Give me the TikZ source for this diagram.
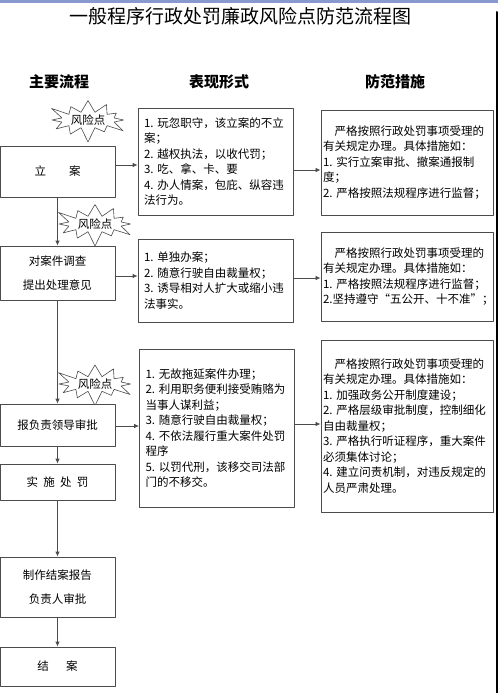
\documentclass[tikz,border=0pt]{standalone}
\usepackage{fontspec}
\setmainfont{Noto Sans CJK SC}
\usepackage{xcolor}
\usepackage{tikz}
\usetikzlibrary{arrows.meta,shapes.symbols}
\definecolor{bandblue}{RGB}{138,152,208}

\begin{document}
\begin{tikzpicture}[
				x=1pt,
				y=-1pt,
				line cap=round,
				line join=round,
				>={Latex[length=5pt,width=4.5pt]},
				every node/.style={font=\fontsize{11.5}{15.5}\selectfont},
				liubox/.style={draw=black!70,fill=white,line width=0.8pt,
					minimum width=115pt,align=center,inner sep=0pt},
				biaobox/.style={draw=black!70,fill=white,line width=0.8pt,
					text width=143pt,inner xsep=6pt,align=left},
				cuobox/.style={draw=black!70,fill=white,line width=0.9pt,
					text width=168pt,inner xsep=2pt,align=left},
				fengxian/.style={starburst,starburst points=12,
					starburst point height=16pt,draw=black!70,fill=white,
					line width=0.6pt,minimum width=86pt,minimum height=48pt,inner sep=0pt},
				title/.style={font=\bfseries\fontsize{15}{18}\selectfont}
				]
				\useasboundingbox (0,0) rectangle (498,693);
				\fill[white] (0,0) rectangle (498,693);
				\fill[bandblue] (0,0) rectangle (498,2.6);
				\draw[line width=2pt] (497,12) -- (497,693);
				
				\node[font=\fontsize{19}{22}\selectfont] (biaoti) at (240,16)
				{一般程序行政处罚廉政风险点防范流程图};
				\node[title] (h1) at (59,82) {主要流程};
				\node[title] (h2) at (219,82) {表现形式};
				\node[title] (h3) at (395,82) {防范措施};
				
				% risk points
				\node[fengxian] (fx1) at (88,120) {风险点};
				\node[fengxian] (fx2) at (95,224) {风险点};
				\node[fengxian,minimum height=44pt] (fx3) at (95,384) {风险点};
				
				% main flow
				\node[liubox,minimum height=51pt] (lian) at (57.5,171.5) {立\hspace{2em}案};
				\node[liubox,minimum height=54pt] (diaocha) at (57.5,273)
				{对案件调查\\[8.5pt]提出处理意见};
				\node[liubox,minimum height=42pt] (shenpi) at (57.5,425) {报负责领导审批};
				\node[liubox,minimum height=36pt] (chufa) at (57.5,482)
				{实\hspace{0.45em}施\hspace{0.45em}处\hspace{0.45em}罚};
				\node[liubox,minimum height=60pt] (baogao) at (57.5,587)
				{制作结案报告\\[8.5pt]负责人审批};
				\node[liubox,minimum height=39pt] (jiean) at (57.5,666.5) {结\hspace{1.5em}案};
				
				\foreach \a/\b in {lian/diaocha,diaocha/shenpi,shenpi/chufa,chufa/baogao,baogao/jiean}
				\draw[->,black!70,line width=0.8pt] (\a) -- (\b);
				
				% forms
				\node[biaobox,minimum height=107pt] (biao1) at (215.5,161.5)
				{1.~玩忽职守，该立案的不立\\
					案；\\
					2.~越权执法，以收代罚；\\
					3.~吃、拿、卡、要\\
					4.~办人情案，包庇、纵容违\\
					法行为。};
				\node[biaobox,minimum height=83pt] (biao2) at (215.5,280.5)
				{1.~单独办案；\\
					2.~随意行驶自由裁量权；\\
					3.~诱导相对人扩大或缩小违\\
					法事实。};
				\node[biaobox,minimum height=158pt] (biao3) at (217,428)
				{1.~无故拖延案件办理；\\
					2.~利用职务便利接受贿赂为\\
					当事人谋利益；\\
					3.~随意行驶自由裁量权；\\
					4.~不依法履行重大案件处罚\\
					程序\\
					5.~以罚代刑，该移交司法部\\
					门的不移交。};
				
				% measures
				\node[cuobox,minimum height=105pt] (cuoshi1) at (407,162.5)
				{\hspace{1em}严格按照行政处罚事项受理的\\
					有关规定办理。具体措施如：\\
					1.~实行立案审批、撤案通报制\\
					度；\\
					2.~严格按照法规程序进行监督；};
				\node[cuobox,minimum height=89pt] (cuoshi2) at (407,276.5)
				{\hspace{1em}严格按照行政处罚事项受理的\\
					有关规定办理。具体措施如：\\
					1.~严格按照法规程序进行监督；\\
					2.坚持遵守“五公开、十不准”；};
				\node[cuobox,minimum height=172pt] (cuoshi3) at (407,426)
				{\hspace{1em}严格按照行政处罚事项受理的\\
					有关规定办理。具体措施如：\\
					1.~加强政务公开制度建设；\\
					2.~严格层级审批制度，控制细化\\
					自由裁量权；\\
					3.~严格执行听证程序，重大案件\\
					必须集体讨论；\\
					4.~建立问责机制，对违反规定的\\
					人员严肃处理。};
				
				\draw[->,black!70,line width=0.8pt] (lian.east |- 0,165) -- (biao1.west |- 0,165);
				\draw[->,black!70,line width=0.8pt] (biao1.east |- 0,170) -- (cuoshi1.west |- 0,170);
				\draw[->,black!70,line width=0.8pt] (diaocha.east |- 0,276) -- (biao2.west |- 0,276);
				\draw[->,black!70,line width=0.8pt] (biao2.east |- 0,278) -- (cuoshi2.west |- 0,278);
				\draw[->,black!70,line width=0.8pt] (shenpi.east |- 0,426) -- (biao3.west |- 0,426);
				\draw[->,black!70,line width=0.8pt] (biao3.east |- 0,424) -- (cuoshi3.west |- 0,424);
			\end{tikzpicture}
\end{document}
